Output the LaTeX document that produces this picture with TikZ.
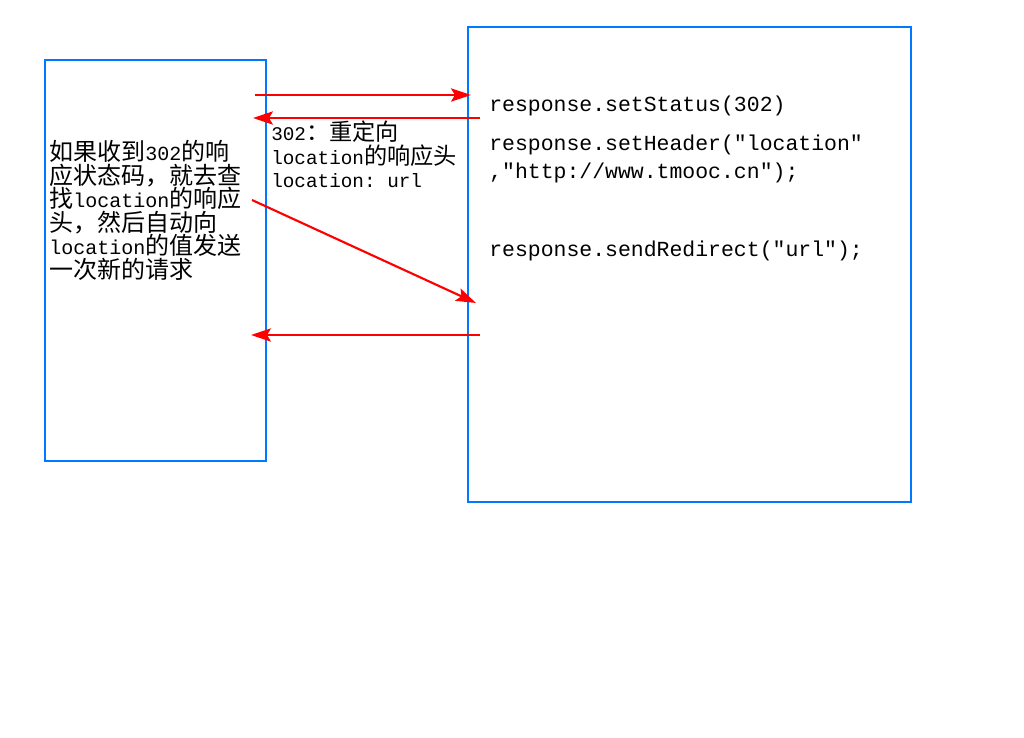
\documentclass[tikz,border=0pt]{standalone}
\usepackage{fontspec}
\setmonofont{Liberation Mono}
\newfontfamily\cjk[Scale=1.2]{Noto Sans CJK SC}
\usetikzlibrary{arrows.meta}
\definecolor{boxblue}{RGB}{0,120,255}

\begin{document}
\begin{tikzpicture}[x=0.75pt,y=-0.75pt,>={Stealth[length=15pt,width=10pt,inset=3pt]},
  panel/.style={draw=boxblue,line width=1.5pt,anchor=north west,inner sep=0pt},
  msg/.style={->,draw=red,line width=1.6pt},
  note/.style={anchor=north west,inner sep=0pt,align=left}]
\useasboundingbox (0,0) rectangle (1024,738);
% browser and server
\node[panel,minimum width=165.75pt,minimum height=300.75pt] (client) at (44,59) {};
\node[panel,minimum width=332.25pt,minimum height=356.25pt] (server) at (467,26) {};
\node[note,font=\fontsize{15}{17.7}\selectfont\ttfamily] (clienttext) at (49,140)
  {{\cjk 如果收到}302{\cjk 的响}\\{\cjk 应状态码，就去查}\\{\cjk 找}location{\cjk 的响应}\\{\cjk 头，然后自动向}\\location{\cjk 的值发送}\\{\cjk 一次新的请求}};
\node[note,font=\fontsize{14.5}{17.6}\selectfont\ttfamily] (header) at (271,121)
  {302{\cjk ：重定向}\\location{\cjk 的响应头}\\location: url};
\node[anchor=base west,inner sep=0pt,font=\fontsize{16.1}{21}\selectfont\ttfamily] (status) at (489,112) {response.setStatus(302)};
\node[note,font=\fontsize{16.1}{21}\selectfont\ttfamily] (setheader) at (489,135) {response.setHeader("location"\\,"http://www.tmooc.cn");};
\node[anchor=base west,inner sep=0pt,font=\fontsize{16.1}{21}\selectfont\ttfamily] (redirect) at (489,256) {response.sendRedirect("url");};
% messages
\coordinate (req1) at (255,95);   \coordinate (req1end) at (471,95);
\coordinate (resp1) at (480,118); \coordinate (resp1end) at (253,118);
\coordinate (req2) at (252,200);  \coordinate (req2end) at (476,303);
\coordinate (resp2) at (480,335); \coordinate (resp2end) at (251,335);
\draw[msg] (req1) -- (req1end);
\draw[msg] (resp1) -- (resp1end);
\draw[msg] (req2) -- (req2end);
\draw[msg] (resp2) -- (resp2end);
\end{tikzpicture}
\end{document}
